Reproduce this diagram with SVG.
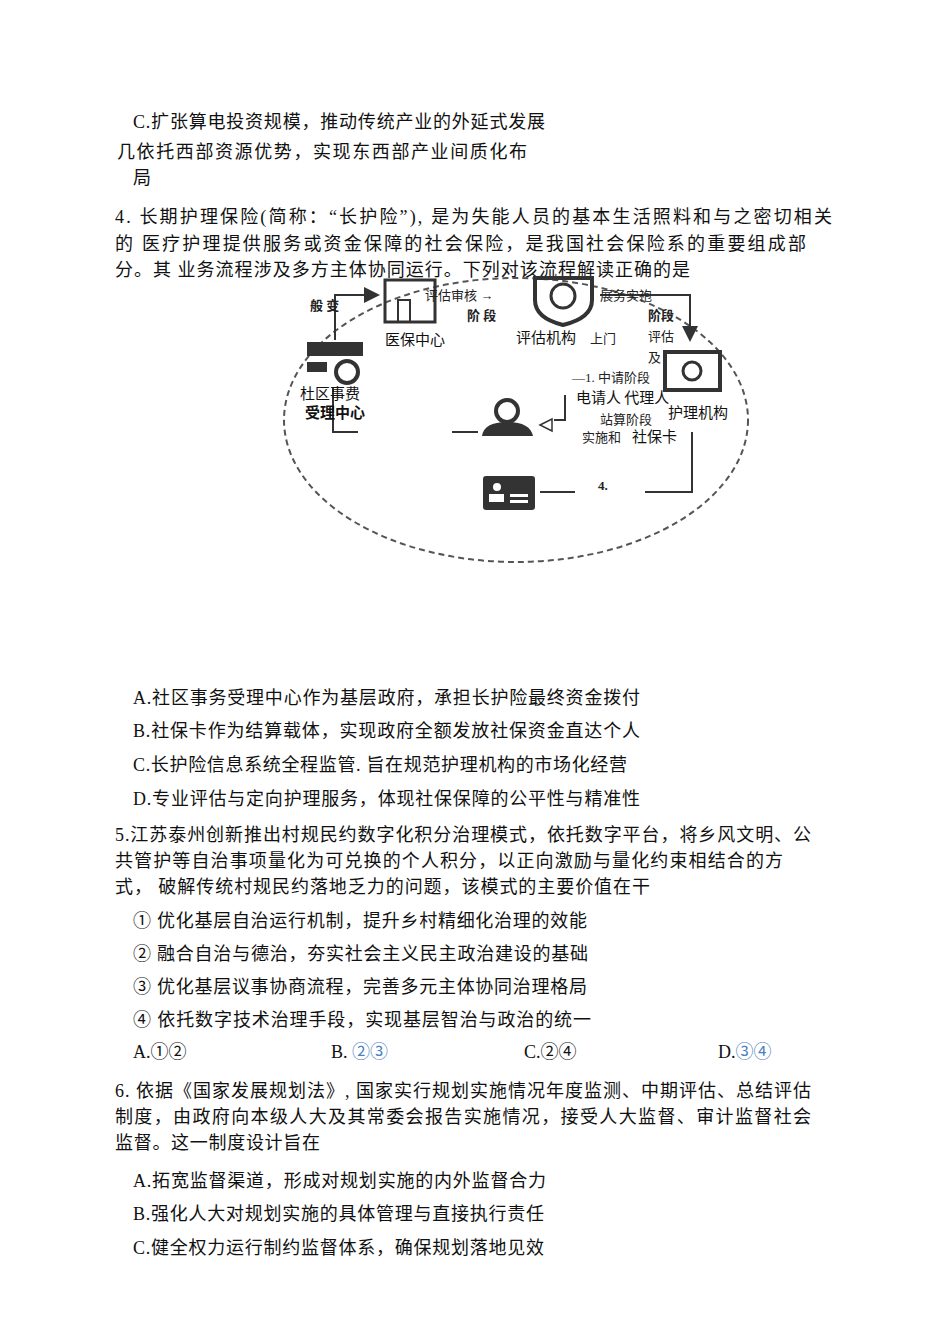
<svg xmlns="http://www.w3.org/2000/svg" width="950" height="1344" viewBox="0 0 950 1344">
<style>
.t{font-family:"Liberation Serif","Noto Sans CJK SC",serif;font-size:18px;fill:#111}
.s{font-family:"Liberation Serif","Noto Sans CJK SC",serif;font-size:13px;fill:#222}
.l{font-family:"Noto Sans CJK SC",sans-serif;font-size:15px;fill:#111}
.b{fill:#4a7fc0}
.ln{stroke:#333;stroke-width:2;fill:none}
.ic{fill:#333}
</style>
<defs><marker id="a" markerWidth="8" markerHeight="8" refX="7" refY="4" orient="auto"><path d="M0,0L8,4L0,8z" fill="#333"/></marker></defs>
<rect width="950" height="1344" fill="#fff"/>
<g id="text">
<text class="t" x="133" y="128" textLength="412" lengthAdjust="spacing">C.扩张算电投资规模，推动传统产业的外延式发展</text>
<text class="t" x="117" y="158" textLength="410" lengthAdjust="spacing">几依托西部资源优势，实现东西部产业间质化布</text>
<text class="t" x="133" y="184">局</text>
<text class="t" x="115" y="223" textLength="717" lengthAdjust="spacing">4. 长期护理保险(简称：“长护险”), 是为失能人员的基本生活照料和与之密切相关</text>
<text class="t" x="115" y="250" textLength="691" lengthAdjust="spacing">的  医疗护理提供服务或资金保障的社会保险，是我国社会保险系的重要组成部</text>
<text class="t" x="115" y="276" textLength="575" lengthAdjust="spacing">分。其  业务流程涉及多方主体协同运行。下列对该流程解读正确的是</text>
<text class="t" x="133" y="704" textLength="507" lengthAdjust="spacing">A.社区事务受理中心作为基层政府，承担长护险最终资金拨付</text>
<text class="t" x="133" y="737" textLength="507" lengthAdjust="spacing">B.社保卡作为结算载体，实现政府全额发放社保资金直达个人</text>
<text class="t" x="133" y="771" textLength="494" lengthAdjust="spacing">C.长护险信息系统全程监管. 旨在规范护理机构的市场化经营</text>
<text class="t" x="133" y="805" textLength="507" lengthAdjust="spacing">D.专业评估与定向护理服务，体现社保保障的公平性与精准性</text>
<text class="t" x="115" y="841" textLength="696" lengthAdjust="spacing">5.江苏泰州创新推出村规民约数字化积分治理模式，依托数字平台，将乡风文明、公</text>
<text class="t" x="115" y="867" textLength="668" lengthAdjust="spacing">共管护等自治事项量化为可兑换的个人积分，以正向激励与量化约束相结合的方</text>
<text class="t" x="115" y="893" textLength="535" lengthAdjust="spacing">式，  破解传统村规民约落地乏力的问题，该模式的主要价值在干</text>
<text class="t" x="133" y="927" textLength="454" lengthAdjust="spacing">① 优化基层自治运行机制，提升乡村精细化治理的效能</text>
<text class="t" x="133" y="960" textLength="455" lengthAdjust="spacing">② 融合自治与德治，夯实社会主义民主政治建设的基础</text>
<text class="t" x="133" y="993" textLength="454" lengthAdjust="spacing">③ 优化基层议事协商流程，完善多元主体协同治理格局</text>
<text class="t" x="133" y="1026" textLength="458" lengthAdjust="spacing">④ 依托数字技术治理手段，实现基层智治与政治的统一</text>
<text class="t" x="133" y="1058">A.①②</text>
<text class="t" x="331" y="1058">B. <tspan class="b">②③</tspan></text>
<text class="t" x="524" y="1058">C.②④</text>
<text class="t" x="718" y="1058">D.<tspan class="b">③④</tspan></text>
<text class="t" x="115" y="1097" textLength="696" lengthAdjust="spacing">6. 依据《国家发展规划法》, 国家实行规划实施情况年度监测、中期评估、总结评估</text>
<text class="t" x="115" y="1123" textLength="696" lengthAdjust="spacing">制度，由政府向本级人大及其常委会报告实施情况，接受人大监督、审计监督社会</text>
<text class="t" x="115" y="1149" textLength="205" lengthAdjust="spacing">监督。这一制度设计旨在</text>
<text class="t" x="133" y="1187" textLength="413" lengthAdjust="spacing">A.拓宽监督渠道，形成对规划实施的内外监督合力</text>
<text class="t" x="133" y="1220" textLength="411" lengthAdjust="spacing">B.强化人大对规划实施的具体管理与直接执行责任</text>
<text class="t" x="133" y="1254" textLength="411" lengthAdjust="spacing">C.健全权力运行制约监督体系，确保规划落地见效</text>
</g>
<g id="figure">
<ellipse cx="516" cy="420" rx="232" ry="142" fill="none" stroke="#555" stroke-width="2" stroke-dasharray="6,4"/>
<g id="connectors">
<path class="ln" d="M335,340V295H378" marker-end="url(#a)"/>
<path class="ln" d="M600,295H690V340" marker-end="url(#a)"/>
<path class="ln" d="M333,388V432H358M452,432H478"/>
<path class="ln" d="M692,432V492H645M575,492H540"/>
<path class="ln" d="M565,395V420H554"/>
<path d="M540,425L552,419V431z" fill="none" stroke="#333" stroke-width="1.5"/>
</g>
<g id="n-yibao"><rect x="385" y="280" width="50" height="42" fill="none" stroke="#333" stroke-width="3"/><rect x="398" y="300" width="12" height="22" fill="none" stroke="#333" stroke-width="2"/><text class="l" x="385" y="345">医保中心</text></g>
<g id="n-pinggu"><path d="M535,278H592V300Q592,318 563,325Q535,318 535,300Z" fill="none" stroke="#333" stroke-width="4"/><circle cx="563" cy="296" r="12" fill="none" stroke="#333" stroke-width="3"/><text class="l" x="516" y="343">评估机构</text><text class="s" x="590" y="343">上门</text></g>
<g id="n-huli"><rect x="665" y="352" width="55" height="38" fill="none" stroke="#333" stroke-width="4"/><circle cx="692" cy="371" r="9" fill="none" stroke="#333" stroke-width="3"/><text class="l" x="668" y="418" font-size="14">护理机构</text></g>
<g id="n-shequ"><rect x="307" y="342" width="56" height="14" class="ic"/><rect x="307" y="362" width="20" height="10" class="ic"/><circle cx="347" cy="372" r="11" fill="none" stroke="#333" stroke-width="4"/><text class="l" x="300" y="399">杜区事费</text><text class="l" x="305" y="418" font-weight="bold" font-size="13">受理中心</text></g>
<g id="n-person"><circle cx="507" cy="411" r="11" fill="none" stroke="#333" stroke-width="4"/><path d="M482,436Q484,422 507,422Q530,422 533,436Z" class="ic"/></g>
<g id="n-card"><rect x="483" y="476" width="52" height="34" rx="3" class="ic"/><circle cx="497" cy="487" r="4" fill="#fff"/><rect x="489" y="494" width="15" height="8" fill="#fff"/><rect x="510" y="494" width="18" height="3" fill="#fff"/><rect x="510" y="500" width="18" height="3" fill="#fff"/></g>
<text class="s" x="310" y="310" font-weight="bold">般  变</text>
<text class="s" x="425" y="300">评估审核 →</text>
<text class="s" x="467" y="320" font-weight="bold">阶  段</text>
<text class="s" x="600" y="300">展务实袍</text>
<text class="s" x="648" y="320" font-weight="bold">阶段</text>
<text class="s" x="648" y="341">评估</text>
<text class="s" x="648" y="362">及</text>
<text class="s" x="572" y="382">—1. 中请阶段</text>
<text class="l" x="576" y="403" font-size="14">电请人  代理人</text>
<text class="s" x="600" y="424">站算阶段</text>
<text class="s" x="582" y="442">实施和</text><text class="l" x="632" y="442">社保卡</text>
<text class="s" x="598" y="490" font-weight="bold">4.</text>
</g>
</svg>
